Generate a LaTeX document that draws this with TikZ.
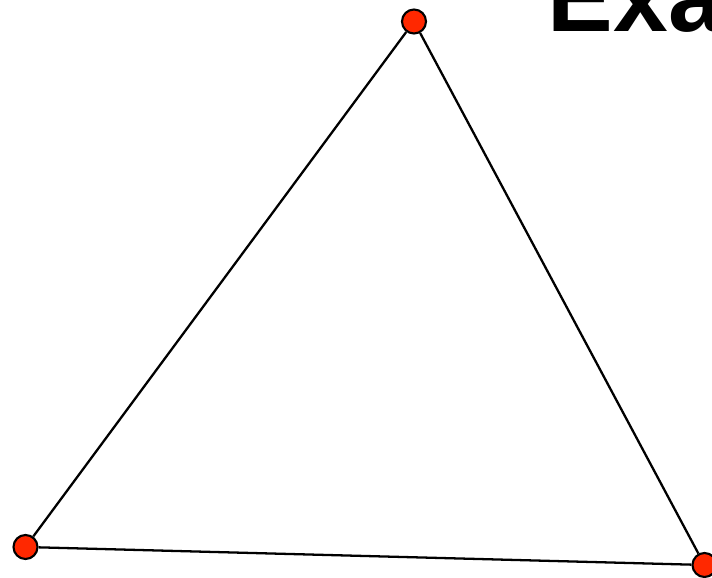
\documentclass[tikz,border=0pt]{standalone}
\usepackage{fontspec}
\setmainfont{Liberation Sans}
\usepackage{xcolor}
\definecolor{vertexred}{RGB}{255,40,0}

\begin{document}
\begin{tikzpicture}[
    vertex/.style={circle, draw, fill=vertexred, line width=1.2pt, minimum size=0.48cm, inner sep=0pt},
    edge/.style={line width=1.3pt}
]
\clip (0,0) rectangle (14.24,11.56);
\useasboundingbox (0,0) rectangle (14.24,11.56);
\node[anchor=base west, inner sep=0pt, font=\fontsize{56}{66}\selectfont\bfseries] (title) at (10.95,10.92) {Exa};
\node[vertex] (top) at (8.28,11.13) {};
\node[vertex] (left) at (0.51,0.62) {};
\node[vertex] (right) at (14.09,0.26) {};
\draw[edge] (top) -- (left);
\draw[edge] (left) -- (right);
\draw[edge] (right) -- (top);
\end{tikzpicture}
\end{document}
